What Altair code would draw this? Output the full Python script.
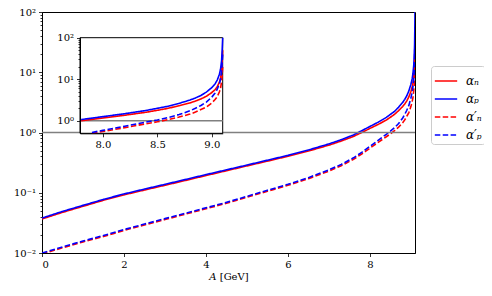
import altair as alt
import pandas as pd

# ---- data ----
A = [0, 0.5, 1, 1.5, 2, 2.5, 3, 3.5, 4, 4.5, 5, 5.5, 6, 6.5, 7, 7.3, 7.6, 7.8, 7.9,
     8.0, 8.2, 8.4, 8.5, 8.6, 8.7, 8.8, 8.85, 8.9, 8.95, 9.0, 9.03, 9.05, 9.07, 9.08,
     9.09, 9.095, 9.1]
alpha_n = [0.0367, 0.0473, 0.0596, 0.0750, 0.0923, 0.111, 0.133, 0.160, 0.193, 0.232,
           0.279, 0.335, 0.403, 0.492, 0.617, 0.721, 0.861, 1.00, 1.08,
           1.17, 1.36, 1.61, 1.79, 2.00, 2.31, 2.70, 2.98, 3.35, 3.89, 4.79, 5.62, 6.61,
           8.51, 10.5, 14.8, 25.1, 50.1]
alpha_p = [0.0380, 0.0490, 0.0617, 0.0776, 0.0955, 0.115, 0.138, 0.166, 0.200, 0.240,
           0.288, 0.347, 0.417, 0.513, 0.646, 0.759, 0.912, 1.07, 1.16,
           1.26, 1.48, 1.78, 2.00, 2.24, 2.63, 3.16, 3.55, 4.07, 4.90, 6.31, 7.76, 9.55,
           13.2, 17.4, 28.2, 50.1, 100.0]
alpha_n_prime = [0.00966, 0.0122, 0.0153, 0.0188, 0.0237, 0.0292, 0.0359, 0.0442, 0.0543,
                 0.0668, 0.0841, 0.106, 0.133, 0.171, 0.229, 0.281, 0.359, 0.440, 0.491,
                 0.550, 0.684, 0.851, 0.944, 1.07, 1.23, 1.45, 1.62, 1.86, 2.14, 2.69,
                 3.24, 3.80, 5.01, 6.03, 8.91, 12.6, 20.0]
alpha_p_prime = [0.0100, 0.0126, 0.0158, 0.0195, 0.0245, 0.0302, 0.0372, 0.0457, 0.0562,
                 0.0692, 0.0871, 0.110, 0.138, 0.178, 0.240, 0.295, 0.380, 0.468, 0.525,
                 0.589, 0.741, 0.933, 1.05, 1.20, 1.41, 1.74, 2.00, 2.34, 2.82, 3.72,
                 4.68, 5.75, 7.94, 10.0, 15.8, 25.1, 39.8]

series_labels = ["αₙ", "αₚ", "α′ₙ", "α′ₚ"]
series_colors = ["#ff0000", "#0000ff", "#ff0000", "#0000ff"]
series_dashes = [[1, 0], [1, 0], [5.5, 2.4], [5.5, 2.4]]

x_ticks = [0, 2, 4, 6, 8]
inset_x_ticks = [8.0, 8.5, 9.0]
main_x_domain = [0, 9.1]
main_y_domain = [0.01, 100]
inset_x_domain = [7.79, 9.1]
inset_y_domain = [0.5, 100]
reference_level = 1.0

rows = []
for lab, vals in zip(series_labels, [alpha_n, alpha_p, alpha_n_prime, alpha_p_prime]):
    for a, v in zip(A, vals):
        rows.append({"A": a, "alpha": v, "series": lab})
df = pd.DataFrame(rows)
inset_df = df[(df["A"] >= inset_x_domain[0]) & (df["alpha"] >= 0.48)]

box_df = pd.DataFrame({"x0": [inset_x_domain[0]], "x1": [inset_x_domain[1]],
                       "y0": [inset_y_domain[0]], "y1": [inset_y_domain[1]]})
ref_df = pd.DataFrame({"y": [reference_level]})
inset_ref_df = pd.DataFrame({"x0": [inset_x_domain[0]], "x1": [inset_x_domain[1]],
                             "y": [reference_level]})

# ---- layout (plot-local pixels) ----
W, H = 373, 241
IN_X = [38, 180.7]
IN_Y = [121.3, 25.7]


def minor_values(lo_exp, hi_exp, lo=None):
    vals = []
    for e in range(lo_exp, hi_exp):
        for m in range(1, 10):
            v = round(m * 10 ** e, 10)
            if lo is None or v >= lo - 1e-12:
                vals.append(v)
    vals.append(10.0 ** hi_exp)
    return vals


E = "round(log(datum.value)/LN10)"
D = f"abs(log(datum.value)/LN10 - {E}) < 0.001"
label_expr = (f"{D} ? ({E} == 2 ? '10²' : {E} == 1 ? '10¹' : {E} == 0 ? '10⁰' : "
              f"{E} == -1 ? '10⁻¹' : '10⁻²') : ''")
tick_cond = {"condition": {"test": D, "value": 3.5}, "value": 2}

color_scale = alt.Scale(domain=series_labels, range=series_colors)
dash_scale = alt.Scale(domain=series_labels, range=series_dashes)

mx = alt.Scale(domain=main_x_domain, nice=False, zero=False)
my = alt.Scale(type="log", domain=main_y_domain, nice=False)
ix = alt.Scale(domain=inset_x_domain, range=IN_X, nice=False, zero=False)
iy = alt.Scale(type="log", domain=inset_y_domain, range=IN_Y, nice=False, clamp=True)

main_lines = alt.Chart(df).mark_line(strokeWidth=1.6, clip=True).encode(
    x=alt.X("A:Q", scale=mx,
            axis=alt.Axis(values=x_ticks, format="d", title="𝐴 [GeV]", orient="bottom",
                          tickSize=3.5, labelPadding=3, titlePadding=2)),
    y=alt.Y("alpha:Q", scale=my,
            axis=alt.Axis(values=minor_values(-2, 2), labelExpr=label_expr, title=None,
                          orient="left", tickSize=tick_cond, labelPadding=3)),
    color=alt.Color("series:N", scale=color_scale, legend=alt.Legend(title=None)),
    strokeDash=alt.StrokeDash("series:N", scale=dash_scale, legend=alt.Legend(title=None)),
    order=alt.Order("A:Q"),
)

main_rule = alt.Chart(ref_df).mark_rule(color="#808080", strokeWidth=1.5).encode(
    y=alt.Y("y:Q", scale=my, axis=None)
)

inset_box = alt.Chart(box_df).mark_rect(fill="white", stroke="black", strokeWidth=1).encode(
    x=alt.X("x0:Q", scale=ix,
            axis=alt.Axis(values=inset_x_ticks, format=".1f", title=None, orient="bottom",
                          offset=-(H - IN_X[0] * 0 - IN_Y[0]), tickSize=3.5, labelPadding=3,
                          zindex=2)),
    x2="x1:Q",
    y=alt.Y("y0:Q", scale=iy,
            axis=alt.Axis(values=minor_values(0, 2, lo=0.5), labelExpr=label_expr,
                          title=None, orient="left", offset=-IN_X[0],
                          tickSize=tick_cond, labelPadding=3, zindex=2)),
    y2="y1:Q",
)

inset_rule = alt.Chart(inset_ref_df).mark_rule(color="#808080", strokeWidth=1.5).encode(
    x=alt.X("x0:Q", scale=ix, axis=None),
    x2="x1:Q",
    y=alt.Y("y:Q", scale=iy, axis=None),
)

inset_lines = alt.Chart(inset_df).mark_line(strokeWidth=1.6).encode(
    x=alt.X("A:Q", scale=ix, axis=None),
    y=alt.Y("alpha:Q", scale=iy, axis=None),
    color=alt.Color("series:N", scale=color_scale, legend=alt.Legend(title=None)),
    strokeDash=alt.StrokeDash("series:N", scale=dash_scale, legend=alt.Legend(title=None)),
    order=alt.Order("A:Q"),
)

chart = alt.layer(main_lines, main_rule, inset_box, inset_rule, inset_lines).resolve_scale(
    x="independent", y="independent"
).properties(
    width=W, height=H,
    autosize=alt.AutoSizeParams(type="none"),
    padding={"left": 34, "top": 4, "right": 69, "bottom": 35},
).configure_view(
    stroke="black", strokeWidth=1
).configure_axis(
    grid=False, labelFont="DejaVu Serif", labelFontSize=10, labelColor="black",
    titleFont="DejaVu Serif", titleFontSize=10, titleFontWeight="normal", titleColor="black",
    domainColor="black", tickColor="black", domainWidth=1, tickWidth=0.8,
).configure_legend(
    orient="none", legendX=389, legendY=54, strokeColor="#cccccc", fillColor="white",
    padding=3, cornerRadius=3, symbolType="stroke", symbolSize=500, symbolStrokeWidth=1.6,
    labelFont="DejaVu Serif", labelFontStyle="italic", labelFontSize=12, labelColor="black",
    rowPadding=-5, labelOffset=8,
)

chart.save("out.html", embed_options={"renderer": "svg", "actions": False})
